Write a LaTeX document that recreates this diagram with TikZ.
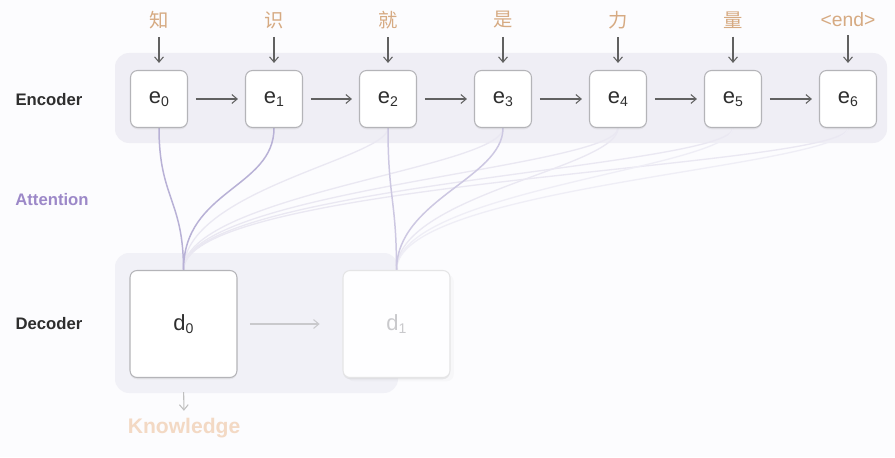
\documentclass[tikz,border=0pt]{standalone}
\usepackage{fontspec}
\setsansfont{Liberation Sans}
\newfontfamily\cjk{Noto Sans CJK SC}
\usepackage{tikz}
\definecolor{pagebg}{HTML}{FCFCFE}
\definecolor{band}{HTML}{EFEEF5}
\definecolor{boxline}{HTML}{B4B4B8}
\definecolor{textdark}{HTML}{2E2E2E}
\definecolor{word}{HTML}{D6AA82}
\definecolor{attn}{HTML}{9C88C8}
\definecolor{attnline}{HTML}{B8B1D6}
\definecolor{attnfaint}{HTML}{EAE8F2}
\definecolor{knowl}{HTML}{F3D9C4}
\definecolor{fade}{HTML}{C9C9CC}
\usetikzlibrary{arrows.meta, positioning, calc, backgrounds, shadows}
\newcommand{\sub}[1]{\raisebox{-0.3ex}{\fontsize{8}{9}\selectfont #1}}

\begin{document}
\begin{tikzpicture}[x=0.02cm, y=0.02cm, every node/.style={font=\sffamily},
  >={Straight Barb[length=3pt,width=5pt]}]
\tikzstyle{ebox}=[rectangle, rounded corners=4pt, fill=white, draw=boxline, line width=0.6pt,
  minimum size=1.14cm, text=textdark, font=\sffamily\fontsize{12.5}{14}\selectfont,
  drop shadow={opacity=0.12, shadow xshift=0pt, shadow yshift=-1pt}]
\tikzstyle{dbox}=[ebox, minimum size=2.14cm]
\tikzstyle{word}=[inner sep=0pt, text=word, font=\cjk\fontsize{11}{13}\selectfont]
\tikzstyle{side}=[text=textdark, font=\sffamily\bfseries\fontsize{9.5}{11}\selectfont]
\tikzstyle{arr}=[->, draw=black!62, line width=0.6pt, shorten <=4.5pt, shorten >=4pt]
\tikzstyle{attnstrong}=[draw=attnline, line width=0.85pt]
\tikzstyle{attnweak}=[draw=attnfaint, line width=0.75pt]

% encoder cells
\node[ebox] (e0) at (159,358) {e\sub{0}};
\node[ebox] (e1) at (274,358) {e\sub{1}};
\node[ebox] (e2) at (388,358) {e\sub{2}};
\node[ebox] (e3) at (503,358) {e\sub{3}};
\node[ebox] (e4) at (618,358) {e\sub{4}};
\node[ebox] (e5) at (733,358) {e\sub{5}};
\node[ebox] (e6) at (848,358) {e\sub{6}};

% input tokens
\node[word] (w0) at (159,437) {知};
\node[word] (w1) at (274,437) {识};
\node[word] (w2) at (388,437) {就};
\node[word] (w3) at (503,437) {是};
\node[word] (w4) at (618,437) {力};
\node[word] (w5) at (733,437) {量};
\node[word, font=\sffamily\fontsize{11}{13}\selectfont] (w6) at (848,437) {<end>};

% decoder cells
\node[dbox] (d0) at (183.5,133) {d\sub{0}};
\node[dbox, draw=boxline!35, fill=white!60!pagebg, text=fade, drop shadow={opacity=0.04}] (d1) at (396.5,133) {d\sub{1}};

% row titles
\node[side] (enc) at (49,357) {Encoder};
\node[side, text=attn] (att) at (52,257) {Attention};
\node[side] (dec) at (49,133) {Decoder};
\node[text=knowl, font=\sffamily\bfseries\fontsize{12}{14}\selectfont, inner sep=0pt] (know) at (184,29) {Knowledge};

% arrows
\draw[arr] (w0) -- (e0);
\draw[arr] (w1) -- (e1);
\draw[arr] (w2) -- (e2);
\draw[arr] (w3) -- (e3);
\draw[arr] (w4) -- (e4);
\draw[arr] (w5) -- (e5);
\draw[arr] (w6) -- (e6);
\draw[arr] (e0) -- (e1);
\draw[arr] (e1) -- (e2);
\draw[arr] (e2) -- (e3);
\draw[arr] (e3) -- (e4);
\draw[arr] (e4) -- (e5);
\draw[arr] (e5) -- (e6);
\draw[arr, draw=fade, shorten <=7pt, shorten >=13pt] (d0) -- (d1);
\draw[arr, draw=black!25, shorten <=8pt, shorten >=4pt] (d0.south) -- (know.north);

\begin{scope}[on background layer]
\path[use as bounding box, fill=pagebg] (0,0) rectangle (895,457);
\fill[band, rounded corners=8pt] (115,314) rectangle (887,404);
\fill[band!80!pagebg, rounded corners=8pt] (115,64) rectangle (398,204);
% attention into d0
\draw[attnweak] (e6.south) .. controls +(0,-40) and +(0,90) .. (d0.north);
\draw[attnweak] (e5.south) .. controls +(0,-40) and +(0,85) .. (d0.north);
\draw[attnweak] (e4.south) .. controls +(0,-40) and +(0,80) .. (d0.north);
\draw[attnweak] (e3.south) .. controls +(0,-40) and +(0,75) .. (d0.north);
\draw[attnweak] (e2.south) .. controls +(0,-30) and +(0,80) .. (d0.north);
\draw[attnstrong] (e1.south) .. controls +(0,-60) and +(0,80) .. (d0.north);
\draw[attnstrong] (e0.south) .. controls +(0,-70) and +(0,70) .. (d0.north);
% attention into d1
\draw[attnweak, draw=attnfaint!70!pagebg] (e6.south) .. controls +(0,-40) and +(0,85) .. (d1.north);
\draw[attnweak, draw=attnfaint!70!pagebg] (e5.south) .. controls +(0,-40) and +(0,80) .. (d1.north);
\draw[attnweak] (e4.south) .. controls +(0,-40) and +(0,75) .. (d1.north);
\draw[attnstrong, draw=attnline!70] (e3.south) .. controls +(0,-50) and +(0,70) .. (d1.north);
\draw[attnstrong, draw=attnline!70] (e2.south) .. controls +(0,-70) and +(0,70) .. (d1.north);
\end{scope}
\end{tikzpicture}
\end{document}
